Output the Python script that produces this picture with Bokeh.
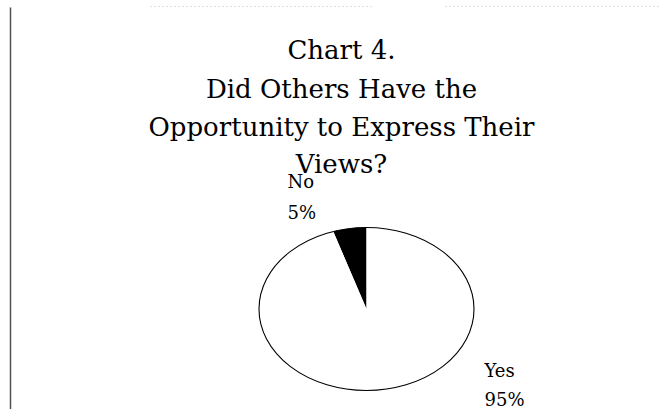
import numpy as np
from bokeh.plotting import figure
from bokeh.models import Range1d
from bokeh.core.properties import value
from bokeh.embed import file_html
from bokeh.resources import INLINE

# ---- data ----
categories = ["No", "Yes"]
percents = [5, 95]
slice_colors = ["black", "white"]
title_lines = ["Chart 4.", "Did Others Have the", "Opportunity to Express Their", "Views?"]

W, H = 660, 409
p = figure(width=W, height=H, output_backend="svg", toolbar_location=None,
           x_range=Range1d(0, W), y_range=Range1d(H, 0), min_border=0)
p.axis.visible = False
p.grid.visible = False
p.outline_line_color = None
p.background_fill_color = "white"
p.border_fill_color = "white"

# left rule and faint top dotted rule
p.segment(x0=[10], y0=[7], x1=[10], y1=[H], line_color="#505050", line_width=1.5)
p.segment(x0=[150, 445], y0=[6, 6], x1=[372, W], y1=[6, 6],
          line_color="#c0c0c0", line_width=1, line_dash="1 3")

# ---- pie (elliptical) ----
cx, cy, rx, ry = 366, 308.5, 107.5, 81.5
fr = np.array(percents, dtype=float) / sum(percents)
ends = np.cumsum(fr) * 2 * np.pi
starts = ends - fr * 2 * np.pi
xs, ys = [], []
for a0, a1 in zip(starts, ends):
    t = np.linspace(a0, a1, 200)
    # angle measured from 12 o'clock, counterclockwise (toward the left)
    xs.append([cx] + list(cx - rx * np.sin(t)) + [cx])
    ys.append([cy] + list(cy - ry * np.cos(t)) + [cy])
p.patches(xs, ys, fill_color=slice_colors, line_color=None)
p.ellipse(x=[cx], y=[cy], width=2 * rx, height=2 * ry, fill_color=None,
          line_color="black", line_width=1.1)

# ---- title ----
title_y = [49, 88, 126, 163]
p.text(x=[341] * 4, y=title_y, text=title_lines, text_align="center",
       text_baseline="alphabetic", text_font=value("DejaVu Serif"),
       text_font_size="26px", text_color="black")

# ---- labels ----
lab_x = [287, 484]
p.text(x=lab_x, y=[181, 370], text=categories, text_align="left",
       text_baseline="alphabetic", text_font=value("DejaVu Serif"),
       text_font_size="18px", text_color="black")
p.text(x=lab_x, y=[212, 399], text=[f"{v}%" for v in percents], text_align="left",
       text_baseline="alphabetic", text_font=value("DejaVu Serif"),
       text_font_size="18px", text_color="black")

open("out.html", "w").write(file_html(p, INLINE))
